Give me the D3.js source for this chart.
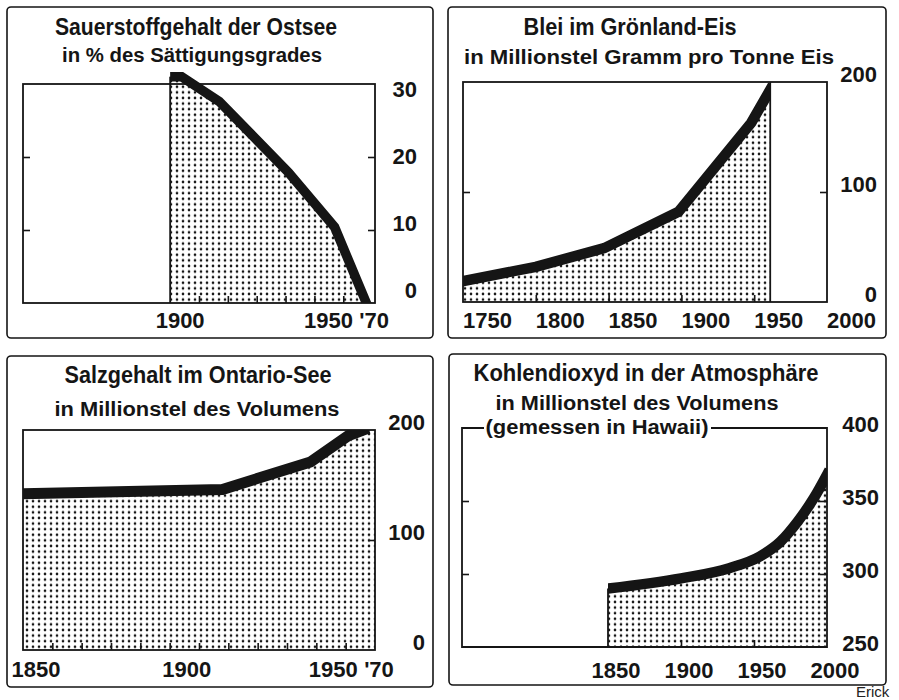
<!DOCTYPE html>
<html>
<head>
<meta charset="utf-8">
<script src="https://cdn.jsdelivr.net/npm/d3@7"></script>
<style>
body { margin: 0; background: #fff; }
svg { display: block; }
</style>
</head>
<body>
<div class="graph"></div>
<script>
// Sauerstoffgehalt der Ostsee (% des Sättigungsgrades)
var oxygenYears  = [1900, 1904, 1917, 1941, 1957, 1968];
var oxygenValues = [31, 31, 27.6, 17.9, 10.4, 0];
var oxygenXTicks = [1910, 1920, 1930, 1940, 1950, 1960];
var oxygenYTicks = [10, 20];
var oxygenXLabelYears = [1900, 1950, 1970];
var oxygenXLabels = ["1900", "1950", "'70"];
var oxygenYLabels = [0, 10, 20, 30];

// Blei im Grönland-Eis (Millionstel Gramm pro Tonne Eis)
var leadYears  = [1750, 1800, 1847, 1898, 1948, 1961];
var leadValues = [19, 32, 49, 82, 163, 193];
var leadXTicks = [1800, 1850, 1900, 1950];
var leadYTicks = [100];
var leadXLabelYears = [1750, 1800, 1850, 1900, 1950, 2000];
var leadXLabels = ["1750", "1800", "1850", "1900", "1950", "2000"];
var leadYLabels = [0, 100, 200];

// Salzgehalt im Ontario-See (Millionstel des Volumens)
var saltYears  = [1850, 1918, 1948, 1961, 1966];
var saltValues = [142, 146, 171, 195, 200];
var saltXTicks = [1860, 1870, 1880, 1890, 1900, 1910, 1920, 1930, 1940, 1950, 1960];
var saltYTicks = [100];
var saltXLabelYears = [1850, 1900, 1950, 1970];
var saltXLabels = ["1850", "1900", "1950", "'70"];
var saltYLabels = [0, 100, 200];

// Kohlendioxyd in der Atmosphäre (Millionstel des Volumens, Hawaii)
var co2Years  = [1850, 1900, 1933, 1954, 1968, 1980, 1991, 2000];
var co2Values = [290, 297, 304, 312, 322, 336, 352, 368];
var co2XTicks = [1900, 1950];
var co2YTicks = [300, 350];
var co2XLabelYears = [1850, 1900, 1950, 2000];
var co2XLabels = ["1850", "1900", "1950", "2000"];
var co2YLabels = [250, 300, 350, 400];

var width = 899,
    height = 700;
var ink = "#151515";
var font = "'Liberation Sans', Arial, Helvetica, sans-serif";

var svg = d3.select(".graph").append("svg")
    .attr("width", width)
    .attr("height", height);

var defs = svg.append("defs");
defs.append("pattern")
    .attr("id", "dots")
    .attr("patternUnits", "userSpaceOnUse")
    .attr("width", 6)
    .attr("height", 5.6)
  .append("circle")
    .attr("cx", 3)
    .attr("cy", 2.8)
    .attr("r", 1.3)
    .attr("fill", ink);

// layout for each of the four boxes
var panels = [
  {
    box: [7, 7, 433, 338], plot: [23, 84, 375, 303],
    xDomain: [1849, 1971], yDomain: [0, 30],
    years: oxygenYears, values: oxygenValues, curve: d3.curveLinear, band: 9.5,
    clipX: [1900, 1971], clipTop: false, fillToEdge: false,
    edges: [{year: 1900, full: false}],
    xTicks: oxygenXTicks, yTicksLeft: oxygenYTicks, yTicksRight: oxygenYTicks,
    xLabelYears: oxygenXLabelYears, xLabels: oxygenXLabels, xLabelDx: [10, 14, 2],
    xLabelAnchor: "middle", xLabelY: 328,
    yLabels: oxygenYLabels, yLabelX: 417, yLabelRange: [298, 97],
    titles: [
      {text: "Sauerstoffgehalt der Ostsee", cx: 196, y: 35, size: 24, len: 282},
      {text: "in % des Sättigungsgrades", cx: 192, y: 62, size: 20, len: 260}
    ]
  },
  {
    box: [448, 7, 886, 338], plot: [463, 82, 827, 302],
    xDomain: [1750, 2000], yDomain: [0, 200],
    years: leadYears, values: leadValues, curve: d3.curveLinear, band: 10.5,
    clipX: [1750, 1961], clipTop: true, fillToEdge: false,
    edges: [{year: 1961, full: true}],
    xTicks: leadXTicks, yTicksLeft: leadYTicks, yTicksRight: leadYTicks,
    xLabelYears: leadXLabelYears, xLabels: leadXLabels, xLabelDx: [0, 0, 0, 0, 0, 0],
    xLabelAnchor: "start", xLabelY: 328,
    yLabels: leadYLabels, yLabelX: 877, yLabelDy: 0,
    titles: [
      {text: "Blei im Grönland-Eis", cx: 630, y: 35, size: 24, len: 213},
      {text: "in Millionstel Gramm pro Tonne Eis", cx: 649, y: 64, size: 20, len: 370}
    ]
  },
  {
    box: [7, 356, 433, 687], plot: [23, 430, 375, 650],
    xDomain: [1850, 1970], yDomain: [0, 200],
    years: saltYears, values: saltValues, curve: d3.curveLinear, band: 11,
    clipX: [1850, 1970], clipTop: true, fillToEdge: true,
    edges: [],
    xTicks: saltXTicks, yTicksLeft: [], yTicksRight: saltYTicks,
    xLabelYears: saltXLabelYears, xLabels: saltXLabels, xLabelDx: [13, 17, 17, 4],
    xLabelAnchor: "middle", xLabelY: 677,
    yLabels: saltYLabels, yLabelX: 425, yLabelDy: 0,
    titles: [
      {text: "Salzgehalt im Ontario-See", cx: 198, y: 383, size: 24, len: 267},
      {text: "in Millionstel des Volumens", cx: 197, y: 416, size: 20, len: 285}
    ]
  },
  {
    box: [449, 354, 886, 685], plot: [462, 428, 827, 647],
    xDomain: [1750, 2000], yDomain: [250, 400],
    years: co2Years, values: co2Values, curve: d3.curveMonotoneX, band: 10.5,
    clipX: [1850, 2000], clipTop: true, fillToEdge: false,
    edges: [{year: 1850, full: false}],
    topGap: [484, 711],
    xTicks: co2XTicks, yTicksLeft: co2YTicks, yTicksRight: co2YTicks,
    xLabelYears: co2XLabelYears, xLabels: co2XLabels, xLabelDx: [8, 8, 8, 8],
    xLabelAnchor: "middle", xLabelY: 678,
    yLabels: co2YLabels, yLabelX: 879, yLabelDy: 4,
    titles: [
      {text: "Kohlendioxyd in der Atmosphäre", cx: 646, y: 381, size: 24, len: 345},
      {text: "in Millionstel des Volumens", cx: 637, y: 410, size: 20, len: 283},
      {text: "(gemessen in Hawaii)", cx: 597, y: 434, size: 20, len: 223}
    ]
  }
];

function drawPanel(p, i) {
    var g = svg.append("g");
    var x0 = p.plot[0], y0 = p.plot[1], x1 = p.plot[2], y1 = p.plot[3];

    var x = d3.scaleLinear().domain(p.xDomain).range([x0, x1]);
    var y = d3.scaleLinear().domain(p.yDomain).range([y1, y0]);

    // outer frame
    g.append("rect")
        .attr("x", p.box[0]).attr("y", p.box[1])
        .attr("width", p.box[2] - p.box[0])
        .attr("height", p.box[3] - p.box[1])
        .attr("rx", 4)
        .attr("fill", "none")
        .attr("stroke", ink)
        .attr("stroke-width", 1.6);

    var pts = p.years.map(function(yr, k) {
        return {year: yr, value: p.values[k]};
    });
    var areaPts = pts.slice();
    if (p.fillToEdge) {
        areaPts.push({year: p.xDomain[1], value: pts[pts.length - 1].value});
    }

    var area = d3.area()
        .x(function(d) { return x(d.year); })
        .y0(y1)
        .y1(function(d) { return y(d.value); })
        .curve(p.curve);

    var line = d3.line()
        .x(function(d) { return x(d.year); })
        .y(function(d) { return y(d.value); })
        .curve(p.curve);

    var clipId = "clip" + i;
    var cx0 = x(p.clipX[0]), cx1 = x(p.clipX[1]);
    var cTop = p.clipTop ? y0 : 0;
    defs.append("clipPath").attr("id", clipId)
      .append("rect")
        .attr("x", cx0).attr("y", cTop)
        .attr("width", cx1 - cx0)
        .attr("height", y1 - cTop);

    g.append("path")
        .datum(areaPts)
        .attr("d", area)
        .attr("fill", "url(#dots)")
        .attr("clip-path", p.clipTop ? "url(#" + clipId + ")" : null);

    // plot frame
    if (p.topGap) {
        g.append("path")
            .attr("d", "M" + p.topGap[0] + "," + y0 + "H" + x0 + "V" + y1 +
                       "H" + x1 + "V" + y0 + "H" + p.topGap[1])
            .attr("fill", "none")
            .attr("stroke", ink)
            .attr("stroke-width", 1.8);
    } else {
        g.append("rect")
            .attr("x", x0).attr("y", y0)
            .attr("width", x1 - x0).attr("height", y1 - y0)
            .attr("fill", "none")
            .attr("stroke", ink)
            .attr("stroke-width", 1.8);
    }

    // vertical edges of the shaded area
    p.edges.forEach(function(e) {
        var k = p.years.indexOf(e.year);
        g.append("line")
            .attr("x1", x(e.year)).attr("x2", x(e.year))
            .attr("y1", e.full ? y0 : y(p.values[k]))
            .attr("y2", y1)
            .attr("stroke", ink)
            .attr("stroke-width", 1.8);
    });

    // the thick black band
    g.append("path")
        .datum(pts)
        .attr("d", line)
        .attr("fill", "none")
        .attr("stroke", ink)
        .attr("stroke-width", p.band)
        .attr("stroke-linejoin", "miter")
        .attr("stroke-linecap", "square")
        .attr("clip-path", "url(#" + clipId + ")");

    // inner ticks
    g.append("g")
        .attr("transform", "translate(0," + y1 + ")")
        .call(d3.axisBottom(x).tickValues(p.xTicks).tickSize(-7).tickFormat(""));
    if (p.yTicksLeft.length) {
        g.append("g")
            .attr("transform", "translate(" + x0 + ",0)")
            .call(d3.axisLeft(y).tickValues(p.yTicksLeft).tickSize(-7).tickFormat(""));
    }
    g.append("g")
        .attr("transform", "translate(" + x1 + ",0)")
        .call(d3.axisRight(y).tickValues(p.yTicksRight).tickSize(-7).tickFormat(""));
    g.selectAll(".domain").remove();
    g.selectAll(".tick line").attr("stroke", ink).attr("stroke-width", 1.6);

    // x labels
    g.selectAll(".xlab")
        .data(p.xLabels)
        .enter().append("text")
        .attr("x", function(d, k) { return x(p.xLabelYears[k]) + p.xLabelDx[k]; })
        .attr("y", p.xLabelY)
        .attr("text-anchor", p.xLabelAnchor)
        .style("font-family", font)
        .style("font-weight", "bold")
        .style("font-size", "22px")
        .attr("fill", ink)
        .text(function(d) { return d; });

    // y labels
    var ly = p.yLabelRange
        ? d3.scaleLinear().domain([p.yDomain[0], p.yDomain[1]]).range(p.yLabelRange)
        : function(v) { return y(v) + p.yLabelDy; };
    g.selectAll(".ylab")
        .data(p.yLabels)
        .enter().append("text")
        .attr("x", p.yLabelX)
        .attr("y", function(d) { return ly(d); })
        .attr("text-anchor", "end")
        .style("font-family", font)
        .style("font-weight", "bold")
        .style("font-size", "22px")
        .attr("fill", ink)
        .text(function(d) { return d; });

    // titles
    p.titles.forEach(function(t) {
        g.append("text")
            .attr("x", t.cx)
            .attr("y", t.y)
            .attr("text-anchor", "middle")
            .attr("textLength", t.len)
            .attr("lengthAdjust", "spacingAndGlyphs")
            .style("font-family", font)
            .style("font-weight", "bold")
            .style("font-size", t.size + "px")
            .attr("fill", ink)
            .text(t.text);
    });
}

panels.forEach(drawPanel);

svg.append("text")
    .attr("x", 856)
    .attr("y", 697)
    .style("font-family", font)
    .style("font-size", "15px")
    .attr("fill", "#222")
    .text("Erick");
</script>
</body>
</html>
